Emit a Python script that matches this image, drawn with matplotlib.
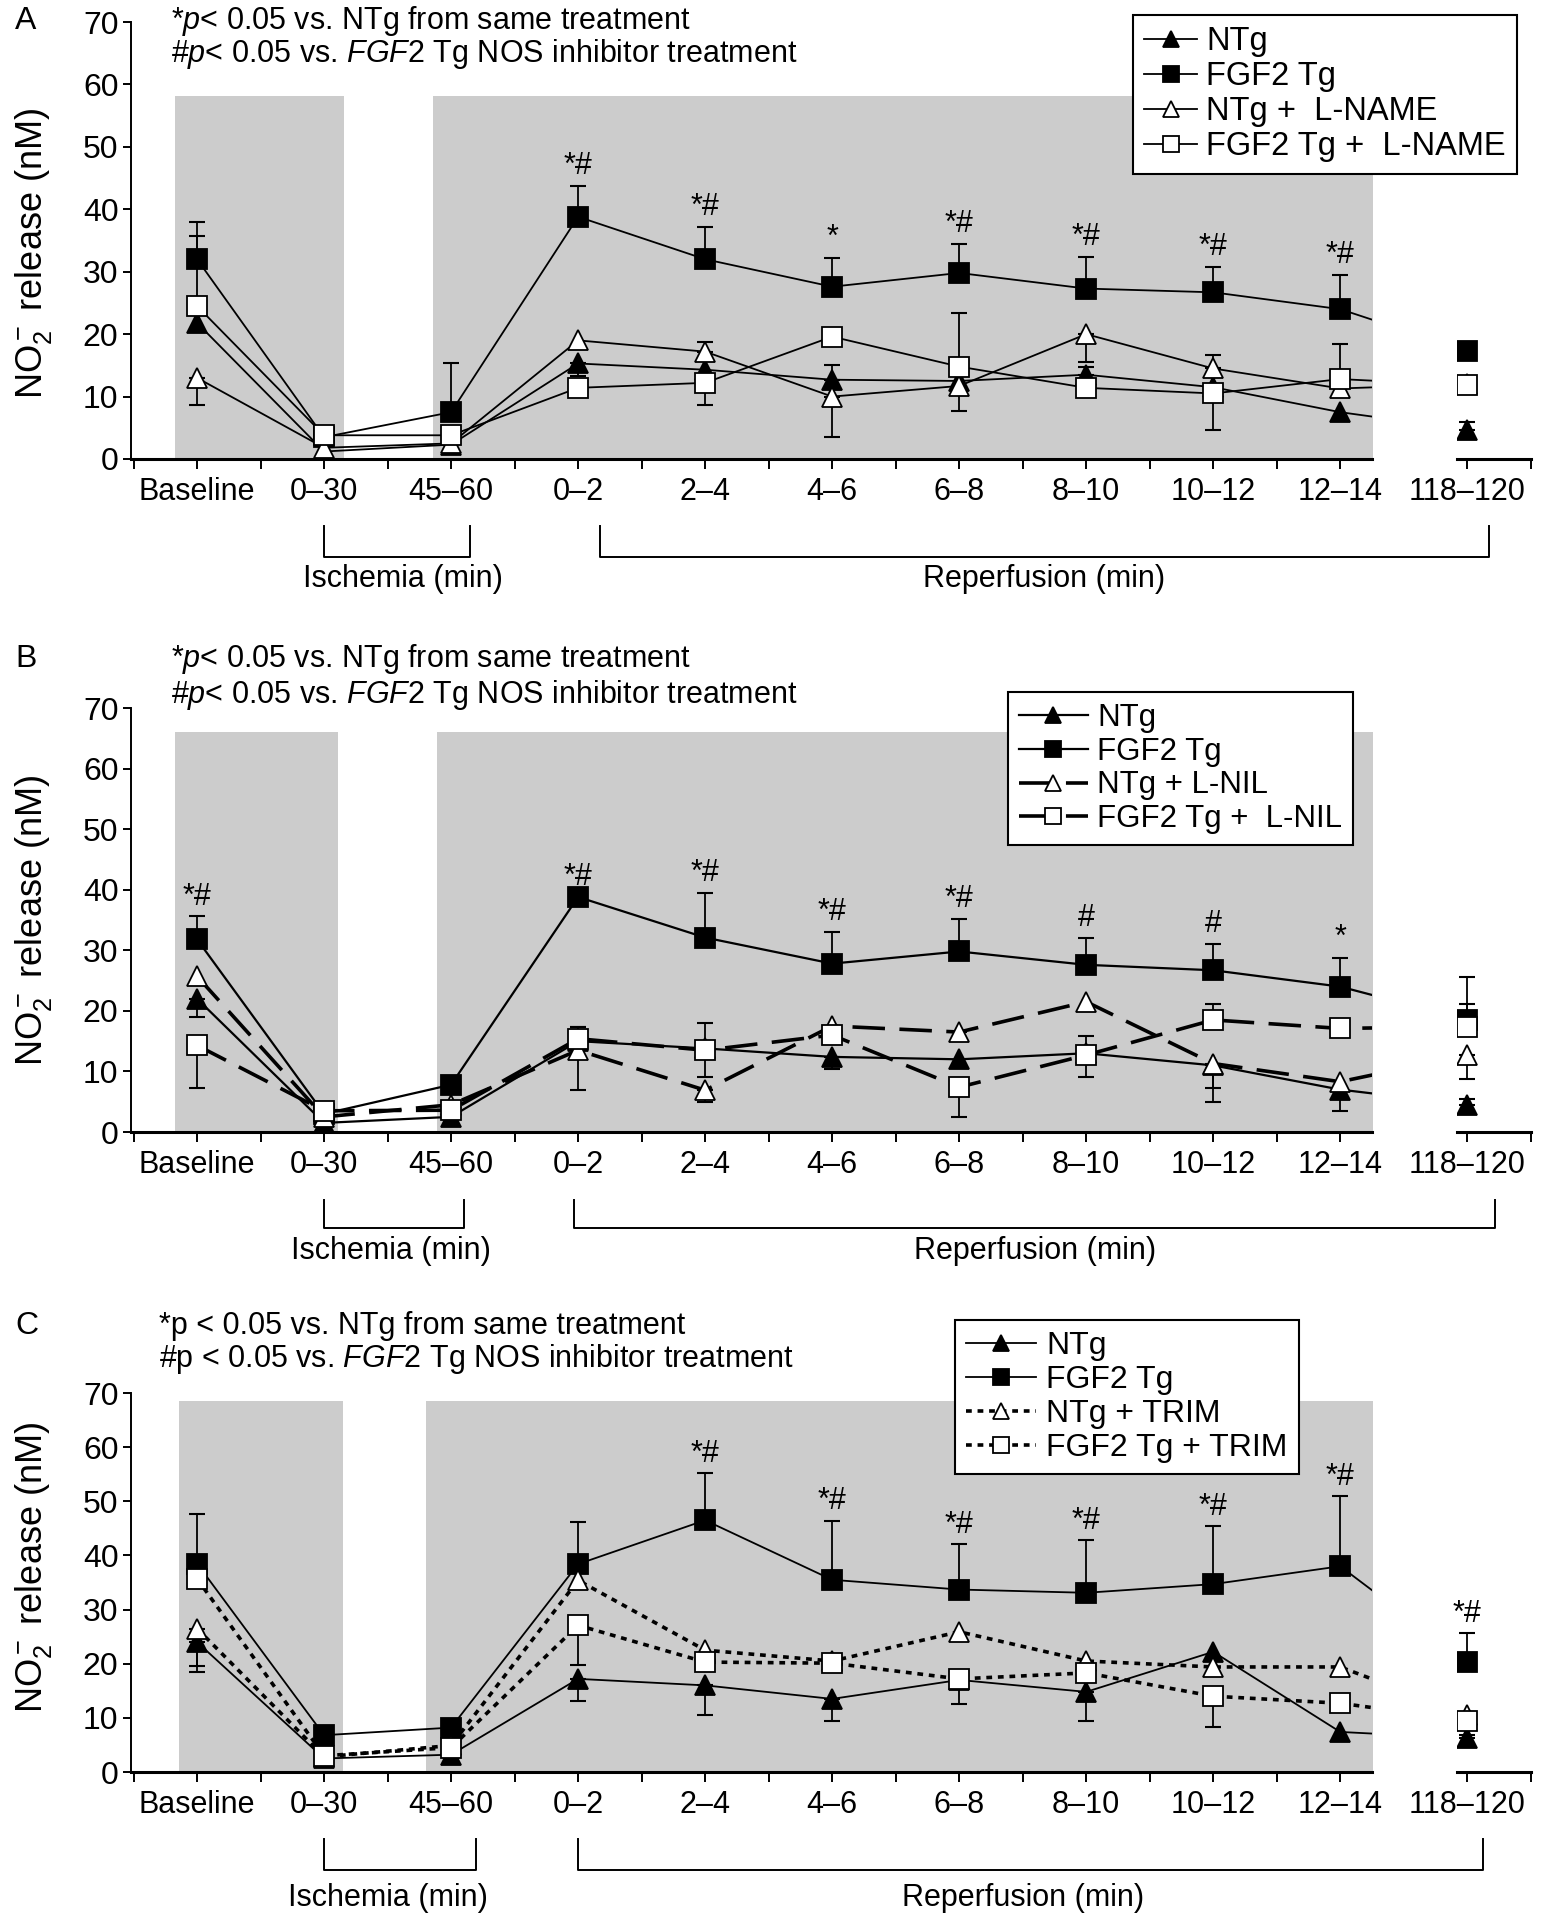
import matplotlib
matplotlib.use("Agg")
import matplotlib.pyplot as plt
from matplotlib.lines import Line2D
from matplotlib.transforms import blended_transform_factory

plt.rcParams['font.family'] = ['Liberation Sans', 'DejaVu Sans']
plt.rcParams['mathtext.fontset'] = 'custom'
plt.rcParams['mathtext.rm'] = 'Liberation Sans'
plt.rcParams['mathtext.it'] = 'Liberation Sans:italic'

categories = ["Baseline", "0–30", "45–60", "0–2", "2–4", "4–6", "6–8",
              "8–10", "10–12", "12–14", "118–120"]

# panel A: L-NAME  (err > 0: upper bar, err < 0: lower bar)
a_ntg = [21.8, 1.2, 2.3, 15.3, 14.3, 12.7, 12.5, 13.5, 11.5, 7.5, 4.7]
a_ntg_err = [0, 0, 0, -2.0, 0, 2.3, 0, 1.2, 0, 0, 1.3]
a_fgf = [32.0, 3.5, 7.5, 38.8, 32.0, 27.6, 29.8, 27.3, 26.7, 24.0, 17.3]
a_fgf_err = [6.0, 0, 7.8, 5.0, 5.2, 4.6, 4.6, 5.0, 4.0, 5.4, 1.0]
a_ntg_inh = [13.0, 1.8, 2.5, 19.0, 17.2, 10.0, 11.7, 20.0, 14.5, 11.3, 12.0]
a_ntg_inh_err = [-4.3, 0, 0, 0, 1.5, -6.5, -4.0, -4.5, 2.2, 0, 0]
a_fgf_inh = [24.5, 3.8, 3.8, 11.4, 12.2, 19.6, 14.8, 11.4, 10.5, 12.8, 11.8]
a_fgf_inh_err = [11.2, 0, 0, 0, -3.6, 0, 8.6, 0, -5.8, 5.6, 0]
a_marks = ["", "", "", "*#", "*#", "*", "*#", "*#", "*#", "*#", ""]
a_labels = ["NTg", "FGF2 Tg", "NTg +  L-NAME", "FGF2 Tg +  L-NAME"]

# panel B: L-NIL
b_ntg = [22.0, 1.5, 2.5, 15.0, 13.8, 12.4, 12.0, 13.0, 11.0, 7.0, 4.5]
b_ntg_err = [-3.0, 0, 0, 2.4, -4.7, -2.0, 0, -3.9, -3.8, -3.6, 1.0]
b_fgf = [31.8, 3.0, 7.8, 38.8, 32.1, 27.8, 29.8, 27.6, 26.7, 24.0, 18.5]
b_fgf_err = [3.8, 0, 0, 0, 7.4, 5.3, 5.4, 4.4, 4.4, 4.7, 2.7]
b_ntg_inh = [25.7, 2.5, 4.5, 13.5, 6.9, 17.5, 16.5, 21.5, 11.3, 8.3, 12.7]
b_ntg_inh_err = [0, 0, 0, -6.6, -1.9, 0, -1.0, 0, -6.3, 0, -3.9]
b_fgf_inh = [14.3, 3.5, 3.6, 15.4, 13.5, 16.0, 7.4, 12.7, 18.5, 17.1, 17.4]
b_fgf_inh_err = [-7.1, 0, 0, 2.0, 4.5, 0, -4.9, 3.1, 2.7, 0, 8.2]
b_marks = ["*#", "", "", "*#", "*#", "*#", "*#", "#", "#", "*", ""]
b_labels = ["NTg", "FGF2 Tg", "NTg + L-NIL", "FGF2 Tg +  L-NIL"]

# panel C: TRIM
c_ntg = [24.0, 2.5, 3.2, 17.2, 16.0, 13.5, 17.0, 14.8, 22.2, 7.4, 6.2]
c_ntg_err = [-5.5, 0, 0, -4.0, -5.5, -4.0, 0, -5.3, 0, 0, 0.6]
c_fgf = [38.5, 6.8, 8.2, 38.4, 46.5, 35.5, 33.7, 33.1, 34.7, 38.0, 20.3]
c_fgf_err = [9.2, 0, 0, 7.7, 8.7, 10.9, 8.4, 9.7, 10.7, 12.9, 5.4]
c_ntg_inh = [26.5, 2.8, 4.9, 35.4, 22.5, 20.5, 25.9, 20.5, 19.4, 19.4, 10.5]
c_ntg_inh_err = [-7.0, 0, 0, 0, 0, 0, 0, 0, 0, 0, 0]
c_fgf_inh = [35.7, 3.0, 4.5, 27.1, 20.3, 20.1, 17.2, 18.3, 14.0, 12.7, 9.5]
c_fgf_inh_err = [0, 0, 0, -7.4, 0, 0, -4.6, 0, -5.7, 0, 0]
c_marks = ["", "", "", "", "*#", "*#", "*#", "*#", "*#", "*#", "*#"]
c_labels = ["NTg", "FGF2 Tg", "NTg + TRIM", "FGF2 Tg + TRIM"]

W, H = 1544, 1920
fig = plt.figure(figsize=(W / 100, H / 100), dpi=100)


def px_box(left, top, right, bottom):
    return [left / W, 1 - bottom / H, (right - left) / W, (bottom - top) / H]


def fy(y):
    return 1 - y / H


GREY = '#cccccc'
FS = 22
x = list(range(len(categories)))

panels = [
    dict(letter="A", data=[(a_ntg, a_ntg_err), (a_fgf, a_fgf_err),
                           (a_ntg_inh, a_ntg_inh_err), (a_fgf_inh, a_fgf_inh_err)],
         marks=a_marks, labels=a_labels,
         header=[r"*$p$< 0.05 vs. NTg from same treatment",
                 r"#$p$< 0.05 vs. $\mathit{FGF2}$ Tg NOS inhibitor treatment"],
         top=22, bottom=459, head_y=(21, 54), head_x=171,
         shade=[(-0.17, 1.16), (1.86, 9.4)], shade_top=58.2,
         inh_style=dict(lw=1.3, ls='-'), base_lw=1.3,
         isch=(1.0, 2.15, 1.62), rep=(3.17, 10.17, 6.67),
         rows=(526, 557, 579), ylab=0.47,
         legend=(1133, 15), handlelen=1.6, legfs=23.5),
    dict(letter="B", data=[(b_ntg, b_ntg_err), (b_fgf, b_fgf_err),
                           (b_ntg_inh, b_ntg_inh_err), (b_fgf_inh, b_fgf_inh_err)],
         marks=b_marks, labels=b_labels,
         header=[r"*$p$< 0.05 vs. NTg from same treatment",
                 r"#$p$< 0.05 vs. $\mathit{FGF2}$ Tg NOS inhibitor treatment"],
         top=708, bottom=1132, head_y=(659, 695), head_x=171,
         shade=[(-0.17, 1.11), (1.89, 9.4)], shade_top=66.0,
         inh_style=dict(lw=2.6, ls=(0, (9, 4))), base_lw=1.6,
         isch=(1.0, 2.1, 1.53), rep=(2.97, 10.22, 6.6),
         rows=(1200, 1228, 1251), ylab=0.50,
         legend=(1008, 692), handlelen=2.2, legfs=22.5),
    dict(letter="C", data=[(c_ntg, c_ntg_err), (c_fgf, c_fgf_err),
                           (c_ntg_inh, c_ntg_inh_err), (c_fgf_inh, c_fgf_inh_err)],
         marks=c_marks, labels=c_labels,
         header=["*p < 0.05 vs. NTg from same treatment",
                 r"#p < 0.05 vs. $\mathit{FGF2}$ Tg NOS inhibitor treatment"],
         top=1393, bottom=1772, head_y=(1326, 1359), head_x=159,
         shade=[(-0.14, 1.15), (1.80, 9.4)], shade_top=68.5,
         inh_style=dict(lw=2.6, ls=(0, (1.6, 1.6))), base_lw=1.3,
         isch=(1.0, 2.2, 1.5), rep=(3.0, 10.12, 6.5),
         rows=(1839, 1870, 1898), ylab=0.54,
         legend=(955, 1320), handlelen=2.2, legfs=23),
]

markers = [('^', 'black'), ('s', 'black'), ('^', 'white'), ('s', 'white')]

for p in panels:
    ax = fig.add_axes(px_box(131, p['top'], 1372, p['bottom']))
    ax2 = fig.add_axes(px_box(1457, p['top'], 1531, p['bottom']))
    ax.set_xlim(-0.52, 9.25)
    ax2.set_xlim(9.92, 10.5)
    for a in (ax, ax2):
        a.set_ylim(0, 70)
        a.patch.set_alpha(0)
        for s in ('top', 'right'):
            a.spines[s].set_visible(False)
        a.spines['bottom'].set_linewidth(2.2)
        a.spines['left'].set_linewidth(1.4)
        a.tick_params(axis='x', which='both', direction='out', length=7, width=1.4,
                      labelsize=FS, pad=6)
    ax2.spines['left'].set_visible(False)
    ax2.set_yticks([])

    ax.set_yticks(range(0, 71, 10))
    ax.tick_params(axis='y', direction='out', length=6, width=1.4, labelsize=23, pad=3)
    ax.set_xticks(x[:10])
    ax.set_xticklabels(categories[:10])
    ax.set_xticks([i + 0.5 for i in range(-1, 9)], minor=True)
    ax2.set_xticks([10])
    ax2.set_xticklabels(categories[10:])
    ax2.set_xticks([10.5], minor=True)

    for x0, x1 in p['shade']:
        ax.fill_between([x0, x1], 0, p['shade_top'], color=GREY, lw=0, zorder=0)

    for k, ((vals, errs), (mk, fc)) in enumerate(zip(p['data'], markers)):
        if k < 2:
            lstyle = dict(lw=p['base_lw'], ls='-')
        else:
            lstyle = p['inh_style']
        ax.plot(x, vals, color='black', zorder=2, solid_capstyle='butt', **lstyle)
        for a, idx in ((ax, range(10)), (ax2, [10])):
            ex = [i for i in idx if errs[i] != 0]
            if ex:
                lo = [-errs[i] if errs[i] < 0 else 0 for i in ex]
                hi = [errs[i] if errs[i] > 0 else 0 for i in ex]
                a.errorbar([x[i] for i in ex], [vals[i] for i in ex], yerr=[lo, hi],
                           fmt='none', ecolor='black', elinewidth=1.3, capsize=6,
                           capthick=1.5, zorder=3)
            a.plot([x[i] for i in idx], [vals[i] for i in idx], ls='none', marker=mk,
                   ms=14.5, mfc=fc, mec='black', mew=1.3, zorder=4 + k)

    # significance marks above FGF2 Tg error bars
    fgf, fgf_err = p['data'][1]
    for i, m in enumerate(p['marks']):
        if m:
            a = ax2 if i == 10 else ax
            a.text(x[i], fgf[i] + max(fgf_err[i], 0) + 0.8, m, ha='center', va='bottom',
                   fontsize=22, zorder=10)

    ax.set_ylabel(r"NO$_2^-$ release (nM)", fontsize=26)
    ax.yaxis.set_label_coords(-0.062, p['ylab'])

    # brackets below axis
    tr = blended_transform_factory(ax.transData, fig.transFigure)
    ytop, ybot, ylab = p['rows']
    for (x0, x1, xc), name in ((p['isch'], "Ischemia (min)"), (p['rep'], "Reperfusion (min)")):
        ax.plot([x0, x0, x1, x1], [fy(ytop), fy(ybot), fy(ybot), fy(ytop)], color='black',
                lw=1.4, transform=tr, clip_on=False)
        ax.text(xc, fy(ylab), name, transform=tr, ha='center', va='center', fontsize=FS)

    fig.text(15 / W, fy(p['head_y'][0]), p['letter'], fontsize=23, va='center')
    for line, yy in zip(p['header'], p['head_y']):
        fig.text(p['head_x'] / W, fy(yy), line, fontsize=FS, va='center')

    handles = []
    for k, (mk, fc) in enumerate(markers):
        lstyle = dict(lw=p['base_lw'], ls='-') if k < 2 else p['inh_style']
        handles.append(Line2D([], [], color='black', marker=mk, ms=12, mfc=fc,
                              mec='black', mew=1.3, **lstyle))
    leg = ax.legend(handles, p['labels'], loc='upper left',
                    bbox_to_anchor=(p['legend'][0] / W, fy(p['legend'][1])),
                    bbox_transform=fig.transFigure, fontsize=p['legfs'], frameon=True,
                    fancybox=False, edgecolor='black', framealpha=1, borderaxespad=0,
                    handlelength=p['handlelen'], handletextpad=0.3, borderpad=0.35,
                    labelspacing=0.12)
    leg.get_frame().set_linewidth(1.5)
    leg.set_zorder(20)

fig.savefig("out.png", dpi=100)
